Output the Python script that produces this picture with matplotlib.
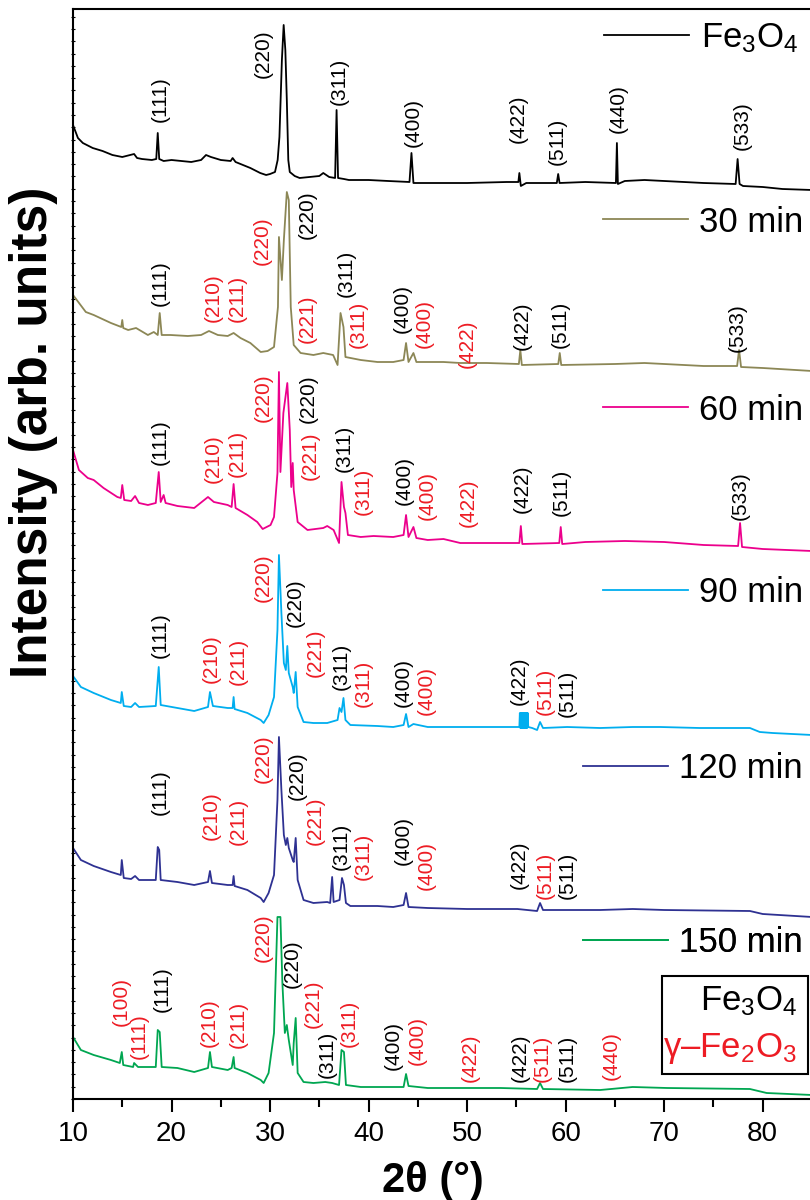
import matplotlib
matplotlib.use('Agg')
import matplotlib.pyplot as plt
from matplotlib.ticker import MultipleLocator
from matplotlib.patches import Rectangle
from matplotlib.lines import Line2D


plt.rcParams['font.family'] = ['Liberation Sans', 'DejaVu Sans']
plt.rcParams['mathtext.fontset'] = 'custom'
plt.rcParams['mathtext.rm'] = 'Liberation Sans'
plt.rcParams['mathtext.it'] = 'Liberation Sans:italic'
plt.rcParams['mathtext.bf'] = 'Liberation Sans:bold'

RED = '#ED1C24'

# -- data: 2theta (deg) and stacked intensity (arb. units) ---------------------

tt_fe3o4 = [10.0, 10.5, 11.0, 12.0, 13.0, 14.0, 15.0, 16.2, 16.5, 17.0, 18.0,
            18.45, 18.6, 18.75, 19.2, 20.0, 21.0, 22.0, 23.0, 23.5, 24.0, 25.0,
            26.0, 26.2, 26.5, 27.0, 28.0, 29.0, 29.6, 30.0, 30.5, 30.77, 30.95,
            31.2, 31.38, 31.55, 31.7, 31.85, 32.0, 32.5, 33.0, 34.0, 35.0,
            35.4, 36.0, 36.6, 36.75, 36.9, 37.5, 38.0, 40.0, 42.0, 44.15,
            44.35, 44.55, 46.0, 50.0, 54.0, 55.2, 55.3, 55.45, 56.0, 59.1,
            59.24, 59.38, 62.0, 65.1, 65.2, 65.3, 66.0, 68.0, 70.0, 74.0,
            77.25, 77.45, 77.65, 78.0, 80.0, 82.0, 85.0]
i_fe3o4 = [974, 961, 956, 951, 948, 944, 942, 945, 941, 940, 939,
           940, 966, 940, 938, 939, 938, 937, 939, 944, 942, 939,
           938, 941, 937, 935, 931, 926, 924, 925, 927, 939, 962,
           1039, 1074, 1049, 999, 939, 927, 923, 921, 922, 923,
           926, 922, 921, 989, 921, 920, 919, 919, 918, 917,
           946, 916, 916, 916, 917, 917, 926, 913, 916, 916,
           925, 916, 917, 916, 956, 915, 918, 919, 918, 916,
           915, 940, 915, 913, 912, 910, 909]

tt_30 = [10.0, 11.3, 12.1, 13.85, 14.9, 15.0, 15.1, 15.6, 16.4, 17.6, 18.2,
         18.6, 18.8, 19.0, 19.9, 21.65, 23.0, 23.8, 24.7, 25.7, 26.3, 27.0,
         28.0, 29.05, 29.75, 30.4, 30.8, 30.9, 31.2, 31.4, 31.7, 31.9, 32.1,
         32.4, 33.1, 34.4, 35.4, 36.4, 36.85, 37.15, 37.45, 37.65, 39.2,
         40.9, 42.5, 43.55, 43.8, 44.05, 44.55, 44.85, 47.6, 49.3, 52.0,
         55.25, 55.4, 55.55, 59.25, 59.4, 59.55, 65.0, 68.0, 70.0, 74.0,
         77.4, 77.6, 77.8, 80.0, 85.0]
i_30 = [804, 787, 784, 776, 772, 779, 771, 769, 771, 764, 767,
        764, 786, 764, 764, 763, 764, 768, 764, 763, 766, 761,
        756, 747, 748, 752, 792, 862, 819, 859, 907, 899, 792,
        754, 746, 744, 746, 744, 734, 786, 772, 742, 739,
        737, 737, 739, 756, 737, 746, 737, 737, 736, 736,
        735, 749, 734, 735, 746, 734, 735, 736, 735, 733,
        733, 749, 732, 731, 728]

tt_60 = [10.0, 10.6, 11.5, 12.1, 13.1, 14.5, 14.85, 15.0, 15.2, 15.9, 16.3,
         16.7, 17.6, 18.4, 18.7, 18.9, 19.2, 19.4, 20.6, 22.3, 23.7, 24.3,
         25.7, 26.1, 26.3, 26.5, 27.7, 28.7, 29.25, 30.05, 30.4, 30.75, 30.9,
         31.05, 31.35, 31.75, 32.0, 32.15, 32.3, 32.4, 32.8, 33.8, 35.4,
         35.8, 36.45, 37.0, 37.25, 37.5, 37.65, 37.9, 39.2, 40.5, 42.5,
         43.55, 43.8, 44.05, 44.55, 44.85, 46.0, 47.6, 49.3, 52.0, 55.3,
         55.45, 55.6, 59.35, 59.5, 59.65, 62.0, 66.0, 70.0, 74.0, 77.5,
         77.7, 77.9, 80.0, 85.0]
i_60 = [649, 629, 621, 619, 611, 602, 601, 614, 599, 598, 603,
        596, 594, 596, 627, 597, 604, 596, 593, 591, 602, 597,
        594, 592, 615, 591, 584, 577, 570, 574, 582, 626, 727,
        627, 686, 716, 669, 612, 636, 609, 577, 569, 571,
        573, 569, 556, 617, 592, 586, 564, 562, 563, 562,
        564, 584, 562, 572, 561, 559, 560, 556, 556, 556,
        573, 555, 556, 572, 555, 557, 558, 557, 554, 553,
        576, 552, 550, 548]

tt_90 = [10.0, 10.8, 12.1, 13.85, 14.85, 14.95, 15.15, 15.9, 16.3, 16.7,
         18.4, 18.7, 18.9, 20.6, 22.3, 23.7, 23.9, 24.2, 25.7, 26.2, 26.3,
         26.4, 27.7, 29.05, 29.35, 29.85, 30.4, 30.75, 30.9, 31.15, 31.4,
         31.6, 31.75, 31.9, 32.3, 32.4, 32.6, 32.8, 33.4, 34.4, 35.8, 36.85,
         37.05, 37.25, 37.45, 37.65, 38.15, 40.9, 42.5, 43.55, 43.8, 44.05,
         44.55, 46.0, 50.0, 53.4, 55.1,
         55.3, 55.35, 55.4, 55.45, 55.5, 55.55, 55.6, 55.65, 55.7, 55.75,
         55.8, 55.85, 55.9, 55.95, 56.0, 56.05, 56.1, 56.15, 56.2,
         56.6, 57.1, 57.4, 57.7, 60.15, 63.5, 66.8, 69.6, 73.6, 78.7,
         79.7, 81.0, 85.0]
i_90 = [423, 412, 406, 399, 396, 407, 393, 392, 396, 392,
        393, 432, 394, 391, 388, 392, 407, 393, 391, 391, 402,
        390, 386, 379, 376, 384, 402, 469, 544, 486, 436,
        429, 453, 426, 412, 406, 427, 392, 377, 376, 376, 379,
        391, 387, 401, 379, 374, 373, 372, 374, 385, 372,
        375, 372, 372, 372, 372,
        372, 386, 371, 386, 371, 386, 371, 386, 371, 386,
        371, 386, 371, 386, 371, 386, 371, 386, 372,
        371, 369, 377, 371, 372, 371, 372, 372, 371, 371,
        367, 366, 364]

tt_120 = [10.0, 10.8, 12.1, 13.85, 14.85, 14.95, 15.15, 15.9, 16.3, 16.7,
          18.4, 18.6, 18.75, 18.9, 20.6, 22.3, 23.7, 23.9, 24.1, 25.7, 26.2,
          26.3, 26.4, 27.7, 29.05, 29.35, 29.85, 30.4, 30.75, 30.9, 31.15,
          31.4, 31.6, 31.75, 31.9, 32.3, 32.4, 32.6, 32.8, 33.4, 34.4, 35.8,
          36.1, 36.3, 36.45, 37.05, 37.3, 37.5, 37.7, 38.15, 40.9, 42.5,
          43.55, 43.8, 44.05, 46.0, 50.0, 55.1, 57.1, 57.4, 57.7, 63.5,
          66.8, 70.0, 78.7, 80.0, 85.0]
i_120 = [251, 239, 233, 227, 224, 239, 221, 220, 223, 219,
         219, 252, 249, 219, 217, 214, 217, 228, 216, 214, 214,
         223, 213, 209, 201, 197, 206, 224, 299, 362, 309,
         264, 254, 261, 251, 239, 237, 261, 219, 199, 196, 197,
         196, 222, 197, 199, 221, 214, 196, 193, 193, 192,
         194, 206, 192, 191, 190, 190, 188, 196, 189, 189,
         190, 189, 188, 185, 182]

tt_150 = [10.0, 10.8, 12.1, 13.85, 14.75, 14.95, 15.1, 16.1, 16.2, 16.6,
          18.4, 18.6, 18.8, 19.0, 20.6, 22.3, 23.7, 23.9, 24.1, 25.7, 26.1,
          26.3, 26.4, 27.7, 29.05, 29.35, 29.85, 30.4, 30.75, 31.05, 31.25,
          31.5, 31.7, 31.9, 32.3, 32.4, 32.6, 32.8, 33.4, 34.4, 35.6, 36.3,
          37.0, 37.25, 37.5, 37.7, 39.2, 40.9, 43.55, 43.8, 44.05, 46.0,
          53.4, 57.1, 57.4, 57.7, 63.5, 66.8, 70.3, 78.7, 80.4, 85.0]
i_150 = [62, 49, 44, 39, 36, 47, 34, 32, 36, 32,
         32, 69, 67, 32, 31, 27, 31, 47, 32, 29, 31,
         42, 31, 26, 19, 16, 26, 66, 182, 182, 116,
         66, 74, 59, 34, 56, 81, 26, 17, 16, 17, 16,
         14, 49, 47, 14, 12, 12, 12, 25, 13, 11,
         11, 10, 16, 10, 9, 12, 11, 10, 6, 4]

traces = [(tt_fe3o4, i_fe3o4), (tt_30, i_30), (tt_60, i_60),
          (tt_90, i_90), (tt_120, i_120), (tt_150, i_150)]
names = ['Fe$_3$O$_4$', '30 min', '60 min', '90 min', '120 min', '150 min']
colors = ['black', '#8C8756', '#EC008C', '#00AEEF', '#2E3192', '#00A651']

# peak labels: (hkl, 2theta, height of label foot, phase) m = Fe3O4, g = gamma
peaks_fe3o4 = [('(111)', 18.9, 977, 'm'), ('(220)', 29.35, 1021, 'm'),
               ('(311)', 37.05, 994, 'm'), ('(400)', 44.55, 952, 'm'),
               ('(422)', 55.2, 956, 'm'), ('(511)', 59.1, 934, 'm'),
               ('(440)', 65.3, 966, 'm'), ('(533)', 77.9, 949, 'm')]
peaks_30 = [('(111)', 18.9, 793, 'm'), ('(210)', 24.2, 777, 'g'),
            ('(211)', 26.7, 777, 'g'), ('(220)', 29.25, 834, 'g'),
            ('(220)', 33.8, 860, 'm'), ('(221)', 33.8, 756, 'g'),
            ('(311)', 37.7, 802, 'm'), ('(311)', 39.0, 751, 'g'),
            ('(400)', 43.4, 766, 'm'), ('(400)', 45.6, 751, 'g'),
            ('(422)', 50.0, 731, 'g'), ('(422)', 55.6, 749, 'm'),
            ('(511)', 59.4, 751, 'm'), ('(533)', 77.4, 747, 'm')]
peaks_60 = [('(111)', 18.9, 634, 'm'), ('(210)', 24.2, 616, 'g'),
            ('(211)', 26.7, 622, 'g'), ('(220)', 29.35, 677, 'g'),
            ('(220)', 33.9, 676, 'm'), ('(221)', 34.1, 619, 'g'),
            ('(311)', 37.5, 627, 'm'), ('(311)', 39.5, 584, 'g'),
            ('(400)', 43.6, 594, 'm'), ('(400)', 46.0, 579, 'g'),
            ('(422)', 50.1, 572, 'g'), ('(422)', 55.6, 586, 'm'),
            ('(511)', 59.6, 583, 'm'), ('(533)', 77.7, 579, 'm')]
peaks_90 = [('(111)', 18.9, 441, 'm'), ('(210)', 24.0, 416, 'g'),
            ('(211)', 26.8, 414, 'g'), ('(220)', 29.35, 497, 'g'),
            ('(220)', 32.6, 472, 'm'), ('(221)', 34.6, 422, 'g'),
            ('(311)', 37.25, 409, 'm'), ('(311)', 39.5, 392, 'g'),
            ('(400)', 43.5, 392, 'm'), ('(400)', 45.9, 384, 'g'),
            ('(422)', 55.3, 394, 'm'), ('(511)', 57.9, 384, 'g'),
            ('(511)', 60.15, 382, 'm')]
peaks_120 = [('(111)', 18.9, 284, 'm'), ('(210)', 24.0, 259, 'g'),
             ('(211)', 26.8, 254, 'g'), ('(220)', 29.35, 316, 'g'),
             ('(220)', 32.8, 299, 'm'), ('(221)', 34.6, 254, 'g'),
             ('(311)', 37.25, 229, 'm'), ('(311)', 39.5, 219, 'g'),
             ('(400)', 43.5, 234, 'm'), ('(400)', 45.9, 209, 'g'),
             ('(422)', 55.3, 210, 'm'), ('(511)', 57.9, 200, 'g'),
             ('(511)', 60.15, 200, 'm')]
peaks_150 = [('(100)', 14.9, 73, 'g'), ('(111)', 16.7, 40, 'g'),
             ('(111)', 19.1, 87, 'm'), ('(210)', 23.8, 52, 'g'),
             ('(211)', 26.8, 51, 'g'), ('(220)', 29.35, 137, 'g'),
             ('(220)', 32.3, 111, 'm'), ('(221)', 34.4, 71, 'g'),
             ('(311)', 35.8, 21, 'm'), ('(311)', 38.0, 52, 'g'),
             ('(400)', 42.5, 29, 'm'), ('(400)', 44.95, 34, 'g'),
             ('(422)', 50.3, 17, 'g'), ('(422)', 55.4, 17, 'm'),
             ('(511)', 57.6, 17, 'g'), ('(511)', 60.15, 17, 'm'),
             ('(440)', 64.6, 19, 'g')]
peak_sets = [peaks_fe3o4, peaks_30, peaks_60, peaks_90, peaks_120, peaks_150]


# -- helpers -------------------------------------------------------------------

W, H = 810, 1200


def fx(px):
  return px / W


def fy(py):
  return 1 - py / H


def add_name(fig, ax, color, name, line_y, right):
  handle = Line2D([], [], color=color, lw=1.3)
  leg = ax.legend([handle], [name], loc='center right',
                  bbox_to_anchor=(fx(right), fy(line_y)),
                  bbox_transform=fig.transFigure, frameon=False,
                  fontsize=25, handlelength=2.45, handletextpad=0.32,
                  borderpad=0, borderaxespad=0)
  ax.add_artist(leg)


def main():
  fig = plt.figure(figsize=(W / 100, H / 100), dpi=100)
  ax = fig.add_axes([fx(73), fy(1099), fx(739), 1090 / H])

  for (tt, inten), color in zip(traces, colors):
    ax.plot(tt, inten, color=color, lw=1.3)

  for peaks in peak_sets:
    for hkl, tt, y, phase in peaks:
      ax.text(tt, y, hkl, rotation=90, ha='center', va='bottom', fontsize=15,
              color='black' if phase == 'm' else RED)

  ax.set_xlim(10, 85)
  ax.set_ylim(0, 1090)
  ax.xaxis.set_major_locator(MultipleLocator(10))
  ax.xaxis.set_minor_locator(MultipleLocator(5))
  ax.yaxis.set_major_locator(MultipleLocator(12.3))
  ax.tick_params(axis='x', which='major', direction='out', length=9.5,
                 width=1.5, labelsize=20, pad=6)
  ax.tick_params(axis='x', which='minor', direction='out', length=5.5,
                 width=1.5)
  ax.tick_params(axis='y', which='major', direction='inout', length=3,
                 width=0.8, labelleft=False)
  for side in ax.spines.values():
    side.set_linewidth(1.5)

  # per-trace name tags
  tags = [(38, 798), (222, 803), (410, 803), (593, 803), (769, 803), (943, 803)]
  for color, name, (ly, right) in zip(colors, names, tags):
    add_name(fig, ax, color, name, ly, right)

  # phase key box
  fig.patches.append(Rectangle((fx(662), fy(1074)), fx(146), 98 / H,
                               transform=fig.transFigure, fill=False,
                               lw=1.5, ec='black'))
  fig.text(fx(797), fy(1010), 'Fe$_3$O$_4$', ha='right', va='baseline',
           fontsize=25, color='black')
  fig.text(fx(797), fy(1057), 'γ–Fe$_2$O$_3$', ha='right', va='baseline',
           fontsize=25, color=RED)

  fig.text(fx(433), fy(1192), '2θ (°)', ha='center', va='baseline',
           fontsize=30, fontweight='bold')
  fig.text(fx(34), fy(432), 'Intensity (arb. units)', rotation=90,
           ha='center', va='center', fontsize=37, fontweight='bold')

  fig.savefig('out.png', dpi=100)


if __name__ == '__main__':
  main()
